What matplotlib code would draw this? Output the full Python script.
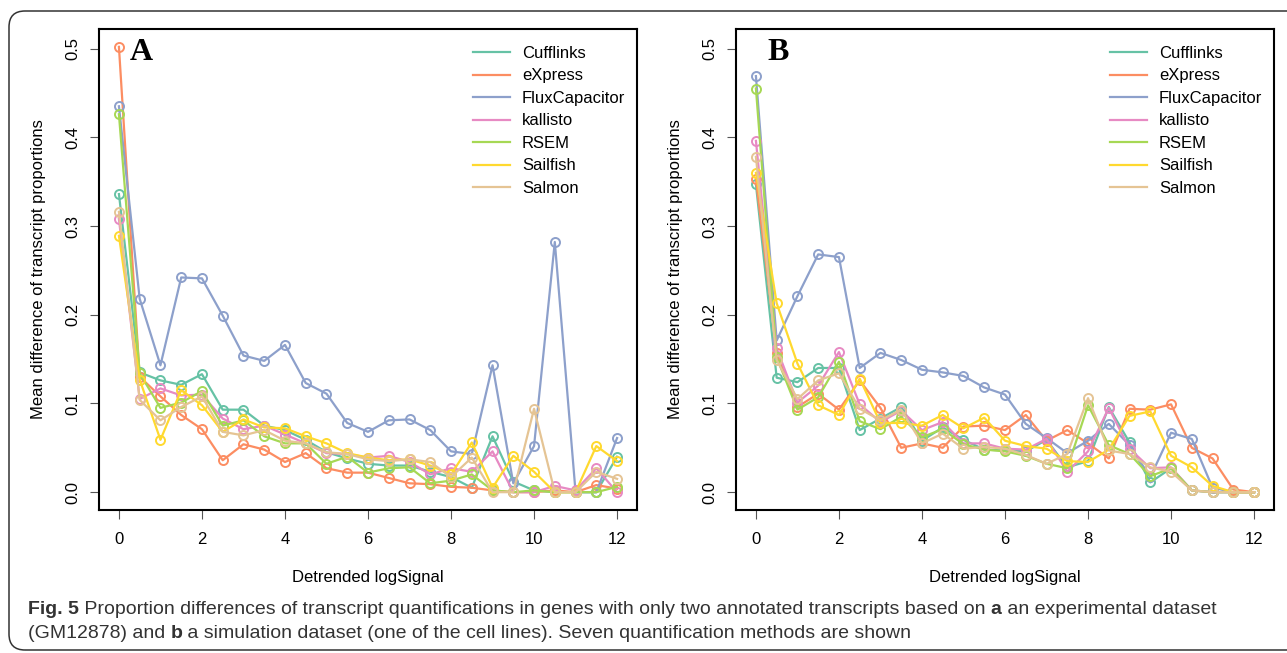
import matplotlib
matplotlib.use("Agg")
import matplotlib.pyplot as plt
import matplotlib.patches as mpatches
import matplotlib.transforms as mtrans
import numpy as np

plt.rcParams['font.family'] = ['Liberation Sans', 'DejaVu Sans']

# detrended logSignal bins
x = np.arange(0, 12.5, 0.5)

methods = ['Cufflinks', 'eXpress', 'FluxCapacitor', 'kallisto', 'RSEM', 'Sailfish', 'Salmon']
colors = ['#66C2A5', '#FC8D62', '#8DA0CB', '#E78AC3', '#A6D854', '#FFD92F', '#E5C494']

# panel A: experimental dataset (GM12878)
cuff_a = [0.336, 0.135, 0.126, 0.121, 0.133, 0.093, 0.093, 0.075, 0.070, 0.059, 0.045, 0.038, 0.032,
          0.030, 0.030, 0.023, 0.017, 0.005, 0.063, 0.012, 0.002, 0.0, 0.0, 0.0, 0.040]
expr_a = [0.502, 0.130, 0.108, 0.087, 0.071, 0.036, 0.054, 0.048, 0.034, 0.044, 0.027, 0.022, 0.022,
          0.016, 0.010, 0.009, 0.006, 0.005, 0.002, 0.0, 0.0, 0.002, 0.0, 0.008, 0.004]
flux_a = [0.435, 0.218, 0.143, 0.242, 0.241, 0.199, 0.154, 0.148, 0.166, 0.123, 0.111, 0.078, 0.068,
          0.081, 0.082, 0.070, 0.046, 0.043, 0.143, 0.010, 0.052, 0.282, 0.0, 0.0, 0.061]
kall_a = [0.308, 0.105, 0.117, 0.109, 0.110, 0.083, 0.071, 0.075, 0.065, 0.055, 0.044, 0.043, 0.039,
          0.041, 0.034, 0.020, 0.027, 0.023, 0.046, 0.0, 0.0, 0.007, 0.002, 0.027, 0.0]
rsem_a = [0.426, 0.134, 0.095, 0.101, 0.114, 0.075, 0.081, 0.063, 0.055, 0.055, 0.032, 0.040, 0.022,
          0.027, 0.028, 0.010, 0.013, 0.020, 0.002, 0.0, 0.002, 0.0, 0.0, 0.0, 0.006]
sail_a = [0.289, 0.127, 0.059, 0.115, 0.098, 0.068, 0.082, 0.073, 0.072, 0.063, 0.055, 0.044, 0.039,
          0.036, 0.037, 0.030, 0.020, 0.056, 0.005, 0.041, 0.023, 0.0, 0.0, 0.052, 0.035]
salm_a = [0.316, 0.104, 0.081, 0.096, 0.108, 0.068, 0.064, 0.070, 0.058, 0.055, 0.045, 0.043, 0.037,
          0.035, 0.037, 0.034, 0.017, 0.039, 0.0, 0.0, 0.094, 0.0, 0.0, 0.023, 0.015]

# panel B: simulation dataset
cuff_b = [0.347, 0.129, 0.124, 0.140, 0.140, 0.070, 0.083, 0.096, 0.058, 0.073, 0.059, 0.048, 0.047,
          0.046, 0.059, 0.028, 0.035, 0.096, 0.056, 0.011, 0.027, 0.002, 0.0, 0.0, 0.0]
expr_b = [0.353, 0.157, 0.096, 0.111, 0.093, 0.126, 0.095, 0.050, 0.055, 0.050, 0.074, 0.075, 0.070,
          0.087, 0.058, 0.070, 0.055, 0.038, 0.094, 0.093, 0.099, 0.050, 0.038, 0.003, 0.0]
flux_b = [0.469, 0.171, 0.221, 0.268, 0.265, 0.140, 0.157, 0.149, 0.138, 0.135, 0.131, 0.118, 0.110,
          0.077, 0.061, 0.044, 0.058, 0.077, 0.053, 0.017, 0.067, 0.060, 0.005, 0.0, 0.0]
kall_b = [0.396, 0.162, 0.101, 0.120, 0.158, 0.099, 0.079, 0.092, 0.070, 0.079, 0.055, 0.055, 0.049,
          0.048, 0.060, 0.023, 0.046, 0.095, 0.049, 0.027, 0.028, 0.002, 0.0, 0.0, 0.0]
rsem_b = [0.455, 0.152, 0.093, 0.107, 0.147, 0.080, 0.071, 0.085, 0.062, 0.071, 0.054, 0.048, 0.046,
          0.041, 0.032, 0.027, 0.098, 0.053, 0.043, 0.018, 0.027, 0.002, 0.0, 0.0, 0.0]
sail_b = [0.360, 0.213, 0.145, 0.098, 0.087, 0.128, 0.078, 0.078, 0.075, 0.087, 0.072, 0.084, 0.058,
          0.052, 0.049, 0.035, 0.034, 0.048, 0.086, 0.091, 0.041, 0.028, 0.007, 0.0, 0.0]
salm_b = [0.378, 0.149, 0.105, 0.126, 0.134, 0.094, 0.081, 0.093, 0.055, 0.066, 0.049, 0.051, 0.049,
          0.042, 0.032, 0.043, 0.106, 0.047, 0.043, 0.028, 0.023, 0.002, 0.0, 0.0, 0.0]

panels = [('A', [cuff_a, expr_a, flux_a, kall_a, rsem_a, sail_a, salm_a]),
          ('B', [cuff_b, expr_b, flux_b, kall_b, rsem_b, sail_b, salm_b])]

W, H = 1287, 653
fig = plt.figure(figsize=(W / 100, H / 100), dpi=100)

# rounded journal frame around everything
frame = mpatches.FancyBboxPatch((9, 3), 1320, 639, boxstyle="round,pad=0,rounding_size=16",
                                transform=mtrans.IdentityTransform(), fill=False,
                                edgecolor='#333333', linewidth=1.1)
fig.patches.append(frame)

ax_left = [99, 736]
for i, (lab, series) in enumerate(panels):
    ax = fig.add_axes([ax_left[i] / W, (H - 510) / H, 538 / W, 481 / H])
    for name, col, vals in zip(methods, colors, series):
        ax.plot(x, vals, color=col, lw=1.6, marker='o', ms=6.5, mfc='none', mew=1.4, label=name)
    ax.set_xlim(-0.48, 12.48)
    ax.set_ylim(-0.0201, 0.5221)
    ax.set_xticks(range(0, 13, 2))
    ax.set_yticks([0, 0.1, 0.2, 0.3, 0.4, 0.5])
    ax.set_yticklabels(['0.0', '0.1', '0.2', '0.3', '0.4', '0.5'], rotation=90, va='center')
    ax.tick_params(direction='out', length=6.5, width=0.8, color='#555555', labelsize=12, pad=9)
    ax.tick_params(axis='y', pad=7)
    for sp in ax.spines.values():
        sp.set_linewidth(1.5)
        sp.set_color('black')
    ax.set_xlabel('Detrended logSignal', fontsize=12, labelpad=17)
    ax.set_ylabel('Mean difference of transcript proportions', fontsize=12, labelpad=14)
    ax.text(0.058, 0.952, lab, transform=ax.transAxes, family='Liberation Serif',
            fontweight='bold', fontsize=23, ha='left', va='center')
    handles = [plt.Line2D([], [], color=c, lw=1.6) for c in colors]
    ax.legend(handles, methods, loc='upper left', bbox_to_anchor=(0.695, 0.965), frameon=False,
              fontsize=12, handlelength=2.2, handletextpad=0.75, labelspacing=0.45,
              borderaxespad=0, borderpad=0)

# caption with bold pieces, laid out piece by piece
cap_font = ['Liberation Sans', 'DejaVu Sans']
cap_size = 14
lines = [[('Fig. 5', 'bold'), (' Proportion differences of transcript quantifications in genes with only two '
          'annotated transcripts based on ', 'normal'), ('a', 'bold'),
          (' an experimental dataset', 'normal')],
         [('(GM12878) and ', 'normal'), ('b', 'bold'),
          (' a simulation dataset (one of the cell lines). Seven quantification methods are shown', 'normal')]]
renderer = fig.canvas.get_renderer()
ys = [H - 614, H - 638]
for line, y in zip(lines, ys):
    xp = 28
    for txt, wt in line:
        t = fig.text(xp / W, y / H, txt, fontsize=cap_size, fontweight=wt, family=cap_font,
                     color='#333333', ha='left', va='baseline')
        bb = t.get_window_extent(renderer)
        xp += bb.width

fig.savefig('out.png', dpi=100)
